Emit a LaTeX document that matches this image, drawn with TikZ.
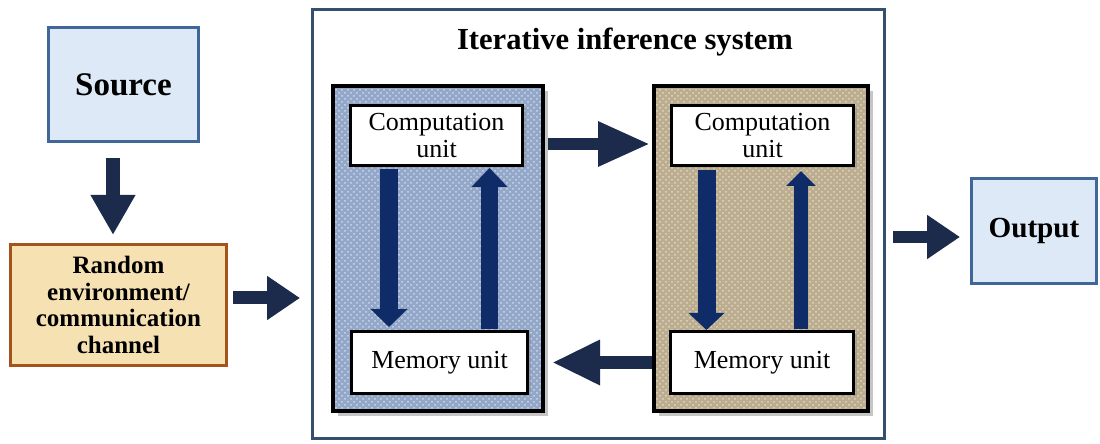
\documentclass[tikz,border=0pt]{standalone}
\usepackage{fontspec}
\setmainfont{Liberation Serif}
\usetikzlibrary{arrows.meta,shadows,patterns}
\definecolor{navy}{HTML}{1C2B4C}
\definecolor{inknavy}{HTML}{0F2B68}
\definecolor{skyfill}{HTML}{DDE9F6}
\definecolor{skyline}{HTML}{41679A}
\definecolor{sandfill}{HTML}{F6E1B3}
\definecolor{rustline}{HTML}{A4531B}
\definecolor{denim}{HTML}{93A7C9}
\definecolor{burlap}{HTML}{BCAD8F}
\definecolor{frameline}{HTML}{34506E}

\begin{document}
\begin{tikzpicture}[x=0.5pt,y=0.5pt,line join=miter,
  every node/.style={inner sep=0pt,align=center},
  endbox/.style={draw=skyline,line width=1.5pt,fill=skyfill,font=\bfseries},
  unitbox/.style={draw=black,line width=1.5pt,fill=white,font=\fontsize{13}{13.5}\selectfont,
    drop shadow={opacity=0.35,shadow xshift=1.5pt,shadow yshift=-1.5pt}},
  blockbox/.style={draw=black,line width=2pt,minimum width=#1,minimum height=162.5pt,
    drop shadow={opacity=0.45,shadow xshift=2.5pt,shadow yshift=-2.5pt}},
  fatarrow/.style={draw=navy,line width=6.5pt,-{Triangle[width=21pt,length=#1]}},
  fatarrow/.default=18pt,
  looparrow/.style={draw=inknavy,line width=#1}]
\useasboundingbox (0,0) rectangle (1100,444);
% end points of the chain
\node[endbox,minimum width=75pt,minimum height=57pt,font=\bfseries\fontsize{16.5}{18}\selectfont] (src) at (123.5,359.5) {Source};
\node[draw=rustline,line width=1.5pt,fill=sandfill,minimum width=108pt,minimum height=60.5pt,
  font=\bfseries\fontsize{12.5}{13.3}\selectfont] (chan) at (118.5,139) {Random\\environment/\\communication\\channel};
\node[endbox,minimum width=62.5pt,minimum height=52.5pt,font=\bfseries\fontsize{14.6}{16}\selectfont] (out) at (1034,213) {Output};
% iterative system
\node[draw=frameline,line width=1.5pt,fill=white,minimum width=286pt,minimum height=214.5pt] (sys) at (598.5,220) {};
\node[font=\bfseries\fontsize{15.3}{17}\selectfont] (title) at (625,402) {Iterative inference system};
\node[blockbox=105pt,preaction={fill=denim},preaction={pattern=crosshatch dots,pattern color=white!55!denim}] (blkA) at (438,195.5) {};
\node[blockbox=107pt,preaction={fill=burlap},preaction={pattern=crosshatch dots,pattern color=white!50!burlap}] (blkB) at (761,195.5) {};
\node[unitbox,minimum width=86pt,minimum height=30pt] (compA) at (436.5,308.5) {Computation\\unit};
\node[unitbox,minimum width=88pt,minimum height=31pt] (memA) at (439.5,81.5) {Memory unit};
\node[unitbox,minimum width=91pt,minimum height=30pt] (compB) at (762.5,308.5) {Computation\\unit};
\node[unitbox,minimum width=91.5pt,minimum height=31pt] (memB) at (762,81.5) {Memory unit};
% connectors
\draw[fatarrow=20pt,line width=7pt,shorten <=7.5pt,shorten >=4pt] ([xshift=-5.25pt]src.south) -- ([xshift=-5.25pt]src.south |- chan.north);
\draw[fatarrow=16.5pt,shorten <=2.5pt,shorten >=5.5pt] ([yshift=3.5pt]chan.east) -- ([yshift=3.5pt]chan.east -| sys.west);
\draw[fatarrow=26pt,line width=6pt,shorten <=1.5pt,shorten >=1pt] ([yshift=-4.25pt]compA.east -| blkA.east) -- ([yshift=-4.25pt]compA.east -| blkB.west);
\draw[fatarrow=24pt,shorten >=3.5pt] (memB.west -| blkB.west) -- (memB.west -| blkA.east);
\draw[fatarrow=16.5pt,line width=5.75pt,shorten <=3.5pt,shorten >=5pt] ([yshift=-3pt]out.west -| sys.east) -- ([yshift=-3pt]out.west);
% loops inside the blocks
\draw[looparrow=9pt,-{Triangle[width=18pt,length=9pt]},shorten <=1pt,shorten >=1.5pt] ([xshift=-23.75pt]compA.south) -- ([xshift=-23.75pt]compA.south |- memA.north);
\draw[looparrow=8.5pt,-{Triangle[width=17.5pt,length=9.5pt]},shorten <=0.5pt,shorten >=0.5pt] ([xshift=25pt]memA.north) -- ([xshift=25pt]memA.north |- compA.south);
\draw[looparrow=9pt,-{Triangle[width=17.5pt,length=8.5pt]},shorten <=1.5pt,shorten >=0pt] ([xshift=-28pt]compB.south) -- ([xshift=-28pt]compB.south |- memB.north);
\draw[looparrow=7pt,-{Triangle[width=14.5pt,length=7.5pt]},shorten <=0.5pt,shorten >=2pt] ([xshift=19.5pt]memB.north) -- ([xshift=19.5pt]memB.north |- compB.south);
\end{tikzpicture}
\end{document}
